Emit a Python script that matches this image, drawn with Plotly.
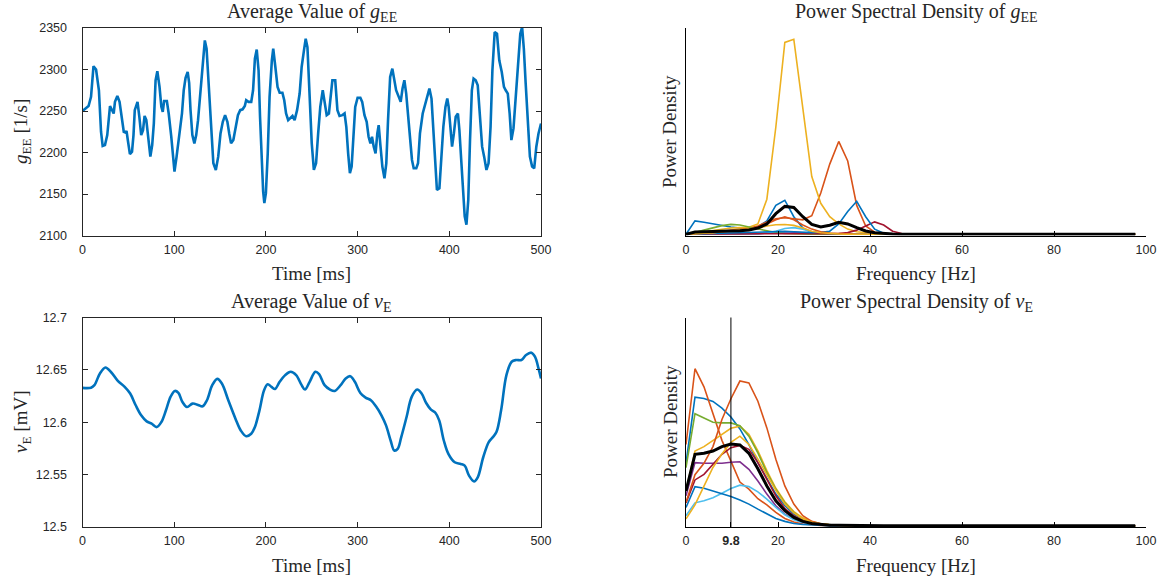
import plotly.graph_objects as go

# ---------------- time-domain data ----------------
# average g_EE over time: (time [ms], g_EE [1/s])
g_ee_samples = [
    (0, 2250), (6.6, 2256), (9.3, 2267), (12, 2304), (14.8, 2300), (17.9, 2275), (20.2, 2225),
    (22, 2208), (24.5, 2209), (27, 2221), (30, 2256), (32, 2251), (34, 2247), (35.4, 2261),
    (38, 2268), (40.4, 2261), (43, 2239), (45, 2225), (47, 2224), (48, 2226), (49.4, 2215),
    (51.7, 2198), (54, 2201), (55.6, 2221), (57, 2251), (60, 2261), (62, 2243), (64, 2221),
    (66, 2227), (67.7, 2244), (69.6, 2239), (72, 2215), (74, 2195), (76, 2209), (77.8, 2235),
    (79.7, 2287), (81.6, 2298), (84, 2279), (86, 2255), (87.5, 2249), (89, 2262), (92, 2262),
    (94, 2247), (96.8, 2219), (98.8, 2195), (100.3, 2177), (102.6, 2195), (105.8, 2221),
    (108.5, 2247), (110.4, 2275), (112.4, 2290), (114.7, 2297), (116.3, 2284), (117.8, 2251),
    (119.8, 2221), (122, 2211), (124, 2221), (126, 2239), (128, 2267), (130.6, 2299),
    (133.4, 2335), (135.3, 2325), (138, 2275), (140.4, 2223), (142.7, 2187), (145.4, 2179),
    (148, 2195), (150.5, 2223), (153, 2237), (155.5, 2245), (158, 2237), (160, 2223),
    (162, 2211), (164.5, 2215), (166.8, 2231), (169.5, 2245), (172, 2251), (174.6, 2252),
    (177, 2256), (178.5, 2263), (181, 2261), (184, 2261), (186, 2275), (188, 2313), (190, 2324),
    (192, 2299), (193.6, 2243), (195.6, 2179), (197, 2153), (198.3, 2139), (200, 2151),
    (202, 2199), (204, 2267), (206.5, 2311), (208, 2325), (210.3, 2303), (212.7, 2279),
    (215, 2272), (218, 2272), (220, 2263), (222, 2247), (224.3, 2239), (226.7, 2241),
    (229, 2244), (231.3, 2239), (234, 2251), (236.8, 2271), (239, 2303), (241.5, 2323),
    (243.4, 2337), (245.3, 2327), (247.7, 2263), (250, 2211), (252.3, 2179), (254.7, 2187),
    (257, 2223), (259.3, 2255), (262, 2275), (264, 2263), (266.3, 2245), (268.7, 2247),
    (271, 2267), (272.5, 2287), (275.6, 2287), (278, 2251), (280.3, 2244), (283.4, 2245),
    (285.8, 2247), (287.7, 2231), (289.7, 2199), (291.6, 2175), (293.5, 2183), (295.5, 2223),
    (297.4, 2255), (300, 2266), (303, 2266), (305, 2261), (307.5, 2245), (309.9, 2237),
    (312, 2219), (314, 2211), (315.7, 2219), (317.6, 2207), (319.6, 2199), (321.5, 2223),
    (323, 2233), (325, 2207), (327, 2183), (329.3, 2169), (331.3, 2187), (333.2, 2239),
    (335.5, 2291), (337.9, 2301), (340, 2289), (342, 2275), (344.9, 2267), (347, 2261),
    (349, 2277), (351, 2287), (353, 2271), (355.4, 2239), (357.3, 2211), (359.3, 2191),
    (361.2, 2181), (364, 2181), (365.9, 2187), (368, 2223), (371, 2247), (373.6, 2257),
    (376, 2267), (378.3, 2277), (380.6, 2265), (382.6, 2231), (384.5, 2195), (386.5, 2155),
    (389.2, 2157), (391, 2195), (393.5, 2231), (395.8, 2255), (397.8, 2265), (399.3, 2255),
    (401, 2231), (403, 2207), (405, 2223), (407, 2243), (409.4, 2247), (411, 2227),
    (413, 2191), (415, 2147), (416.8, 2123), (418.7, 2113), (420.7, 2143), (422.6, 2215),
    (424.6, 2275), (426.5, 2289), (428.8, 2287), (431, 2281), (433.5, 2243), (435.8, 2207),
    (438, 2195), (440.5, 2179), (442.8, 2187), (445, 2231), (447, 2299), (449.5, 2345),
    (452, 2343), (454.5, 2311), (457.2, 2297), (459.6, 2279), (461.5, 2275), (463.8, 2271),
    (465.8, 2247), (467.7, 2215), (470, 2229), (472.4, 2263), (474.7, 2307), (477.4, 2343),
    (479.4, 2351), (481.3, 2325), (483.3, 2283), (485.6, 2231), (487.9, 2195), (490.3, 2183),
    (492.6, 2181), (494.9, 2207), (497.3, 2223), (500, 2235),
]

# average v_E over time: (time [ms], v_E [mV])
v_e_samples = [
    (0, 12.6328), (9.3, 12.633), (13, 12.6354), (19, 12.6466), (25, 12.6523), (31, 12.648),
    (38.5, 12.6395), (46, 12.6338), (52, 12.6274), (58, 12.6162), (64, 12.6066), (70, 12.6008),
    (75.4, 12.5986), (81, 12.5954), (86, 12.6002), (91, 12.6114), (96, 12.6242), (100.7, 12.6299),
    (104.6, 12.628), (109, 12.6194), (114, 12.6146), (120, 12.6178), (126, 12.6165),
    (131, 12.6152), (135.7, 12.621), (141.5, 12.6354), (147, 12.6414), (152, 12.637),
    (159, 12.621), (166.8, 12.6034), (172.6, 12.5922), (178.5, 12.5867), (184, 12.589),
    (188, 12.5954), (193, 12.6114), (198, 12.6306), (202, 12.6363), (206, 12.6338),
    (210, 12.6318), (215, 12.6386), (221, 12.645), (227, 12.6482), (233, 12.645),
    (239, 12.6354), (242.6, 12.6312), (247.7, 12.6386), (254, 12.6482), (258, 12.646),
    (264, 12.6354), (270, 12.6312), (275, 12.6299), (281.5, 12.6354), (287, 12.6418),
    (292, 12.644), (297, 12.6386), (303, 12.628), (308.7, 12.6235), (314.5, 12.621),
    (320, 12.6152), (326, 12.6066), (331, 12.597), (336, 12.5826), (340, 12.573),
    (343.7, 12.5746), (347.6, 12.5858), (353.4, 12.605), (359, 12.6242), (365, 12.6312),
    (369.8, 12.6274), (374.8, 12.6184), (380, 12.612), (385, 12.6088), (389, 12.6018),
    (394, 12.5826), (399, 12.5698), (405.9, 12.5618), (412.5, 12.5602), (416.8, 12.5586),
    (421.5, 12.549), (427, 12.5435), (431, 12.5474), (437, 12.5666), (443, 12.581),
    (447.5, 12.5858), (451.4, 12.5906), (456.5, 12.6114), (462.3, 12.645), (468, 12.6578),
    (473, 12.6594), (478.6, 12.6594), (483.7, 12.6642), (489.5, 12.6664), (493.4, 12.6626),
    (497.3, 12.6514), (500, 12.6418),
]

# ---------------- spectral data ----------------
# frequency bins of the spectra (1000 Hz / 512 samples), up to ~98 Hz
freq_step = 1000 / 512
n_bins = 51
freqs = [k * freq_step for k in range(n_bins)]

# relative power of g_EE, one list per trial (bins beyond the list are ~0)
psd_g_trials = [
    [0, .065, .058, .05, .042, .035, .03, .025, .035, .065, .14, .165, .085, .03, .01, .005, .003, .002, .001],
    [0, .002, .005, .01, .015, .02, .025, .03, .04, .06, .075, .08, .075, .07, .09, .2, .34, .45, .355, .14, .04, .01, .003],
    [0, .004, .01, .018, .025, .03, .032, .034, .05, .17, .52, .93, .945, .62, .28, .15, .085, .05, .025, .012, .006, .003, .001],
    [0, .001, .001, .002, .002, .002, .002, .002, .003, .006, .01, .012, .01, .006, .003, .001],
    [0, .008, .02, .032, .042, .048, .045, .035, .025, .015, .008, .004, .002, .001],
    [0, 0, 0, .001, .001, .001, .001, .001, .002, .006, .015, .028, .032, .025, .012, .005, .002, .001],
    [0, .001, .001, .001, .001, .002, .002, .002, .002, .002, .002, .002, .002, .002, .002, .002, .002, .003, .008, .02, .04, .06, .045, .015, .004, .001],
    [0, .002, .003, .004, .005, .006, .007, .008, .01, .012, .014, .014, .012, .01, .008, .01, .015, .05, .11, .16, .085, .025, .005, .001],
    [0, .002, .004, .008, .012, .016, .02, .025, .035, .05, .07, .085, .07, .045, .025, .012, .006, .003, .001],
    [0, .002, .004, .008, .012, .016, .02, .025, .03, .04, .046, .047, .043, .03, .015, .007, .003, .001],
]
psd_g_mean = [0, .011, .012, .013, .014, .015, .017, .021, .03, .05, .1, .135, .13, .085, .048, .035, .044, .058, .05, .032, .016, .007, .003, .001]

# relative power of v_E, one list per trial
psd_v_trials = [
    [.30, .617, .611, .597, .565, .522, .465, .39, .303, .224, .152, .097, .056, .032, .016, .008, .004, .002, .001],
    [.39, .754, .667, .54, .41, .31, .21, .176, .13, .10, .064, .035, .018, .008, .004, .002, .001],
    [.17, .359, .38, .41, .44, .468, .478, .439, .36, .265, .18, .115, .068, .038, .02, .01, .005, .002, .001],
    [.144, .303, .30, .30, .30, .305, .307, .271, .215, .152, .096, .056, .032, .016, .008, .004, .002, .001],
    [.279, .538, .517, .497, .494, .494, .48, .43, .35, .255, .175, .11, .064, .032, .016, .008, .004, .002, .001],
    [.048, .11, .12, .135, .156, .179, .195, .188, .163, .128, .088, .053, .029, .016, .008, .004, .002, .001],
    [.11, .22, .247, .295, .343, .375, .386, .367, .303, .223, .144, .083, .048, .024, .012, .006, .003, .001],
    [.088, .188, .18, .167, .156, .14, .124, .104, .08, .056, .035, .021, .011, .006, .003, .001],
    [.113, .245, .30, .38, .51, .61, .695, .686, .598, .47, .319, .191, .104, .048, .021, .01, .005, .002, .001],
    [.033, .10, .19, .28, .345, .40, .43, .39, .32, .245, .17, .105, .062, .034, .017, .008, .004, .002],
]
psd_v_mean = [.167, .343, .348, .359, .38, .392, .388, .348, .274, .191, .12, .072, .04, .021, .011, .006, .003, .002, .001]

peak_freq_label = "9.8"

# MATLAB default colour order
trial_colors = ["#0072BD", "#D95319", "#EDB120", "#7E2F8E", "#77AC30",
                "#4DBEEE", "#A2142F", "#0072BD", "#D95319", "#EDB120"]


def on_grid(values):
    """Extend a spectrum list with zero power out to the full frequency grid."""
    return list(values) + [0] * (n_bins - len(values))


W, H = 1166, 582
SERIF = "Liberation Serif"
SANS = "Liberation Sans"
AX = "#262626"

# plot boxes in pixels (left, right, top, bottom)
L_X = (82.5, 541)
R_X = (686, 1146)
T_Y = (28, 235.5)
B_Y = (317.5, 527)


def xd(px):
    return [px[0] / W, px[1] / W]


def yd(py):
    return [1 - py[1] / H, 1 - py[0] / H]


fig = go.Figure()

fig.add_trace(go.Scatter(x=[s[0] for s in g_ee_samples], y=[s[1] for s in g_ee_samples],
                         mode="lines", line=dict(color="#0072BD", width=2.6),
                         xaxis="x", yaxis="y", showlegend=False))

for vals, col in zip(psd_g_trials, trial_colors):
    fig.add_trace(go.Scatter(x=freqs, y=on_grid(vals), mode="lines",
                             line=dict(color=col, width=1.6),
                             xaxis="x2", yaxis="y2", showlegend=False))
fig.add_trace(go.Scatter(x=freqs, y=on_grid(psd_g_mean), mode="lines",
                         line=dict(color="black", width=3),
                         xaxis="x2", yaxis="y2", showlegend=False))

fig.add_trace(go.Scatter(x=[s[0] for s in v_e_samples], y=[s[1] for s in v_e_samples],
                         mode="lines", line=dict(color="#0072BD", width=2.6, shape="spline", smoothing=1),
                         xaxis="x3", yaxis="y3", showlegend=False))

for vals, col in zip(psd_v_trials, trial_colors):
    fig.add_trace(go.Scatter(x=freqs, y=on_grid(vals), mode="lines",
                             line=dict(color=col, width=1.6),
                             xaxis="x4", yaxis="y4", showlegend=False))
fig.add_trace(go.Scatter(x=freqs, y=on_grid(psd_v_mean), mode="lines",
                         line=dict(color="black", width=3),
                         xaxis="x4", yaxis="y4", showlegend=False))

tick_font = dict(family=SANS, size=12.5, color=AX)

common = dict(showgrid=False, zeroline=False, automargin=False, tickfont=tick_font)
box_x = dict(common, showline=True, linecolor=AX, linewidth=1, mirror="ticks", ticks="inside",
             ticklen=5, tickcolor=AX, range=[0, 500], tickvals=[0, 100, 200, 300, 400, 500],
             ticklabelstandoff=2)
box_y = dict(common, showline=True, linecolor=AX, linewidth=1, mirror="ticks", ticks="inside",
             ticklen=5, tickcolor=AX, ticklabelstandoff=12)
psd_x = dict(common, showline=True, linecolor="black", linewidth=1, ticks="inside", ticklen=5,
             tickcolor="black", range=[0, 100], ticklabelstandoff=2)
psd_y = dict(common, showline=True, linecolor="black", linewidth=1.4, ticks="",
             showticklabels=False, range=[-0.006, 1.0])

fig.update_layout(
    template="none",
    width=W, height=H, margin=dict(l=0, r=0, t=0, b=0, pad=0, autoexpand=False),
    paper_bgcolor="white", plot_bgcolor="white", showlegend=False,
    xaxis=dict(box_x, domain=xd(L_X), anchor="y"),
    yaxis=dict(box_y, domain=yd(T_Y), anchor="x", range=[2100, 2350],
               tickvals=[2100, 2150, 2200, 2250, 2300, 2350]),
    xaxis2=dict(psd_x, domain=xd(R_X), anchor="y2", tickvals=[0, 20, 40, 60, 80, 100]),
    yaxis2=dict(psd_y, domain=yd(T_Y), anchor="x2"),
    xaxis3=dict(box_x, domain=xd(L_X), anchor="y3"),
    yaxis3=dict(box_y, domain=yd(B_Y), anchor="x3", range=[12.5, 12.7],
                tickvals=[12.5, 12.55, 12.6, 12.65, 12.7],
                ticktext=["12.5", "12.55", "12.6", "12.65", "12.7"]),
    xaxis4=dict(psd_x, domain=xd(R_X), anchor="y4",
                tickvals=[0, freqs[5], 20, 40, 60, 80, 100],
                ticktext=["0", "<b>" + peak_freq_label + "</b>", "20", "40", "60", "80", "100"]),
    yaxis4=dict(psd_y, domain=yd(B_Y), anchor="x4"),
)

# marker line at the peak frequency of the mean v_E spectrum
fig.add_shape(type="line", xref="x4", yref="y4 domain", x0=freqs[5], x1=freqs[5], y0=0, y1=1,
              line=dict(color="black", width=1))


def label(text, x_px, y_px, angle=0, size=19):
    fig.add_annotation(text=text, x=x_px / W, y=1 - y_px / H, xref="paper", yref="paper",
                       showarrow=False, xanchor="center", yanchor="middle",
                       textangle=angle, font=dict(family=SERIF, size=size, color=AX))


lc = (L_X[0] + L_X[1]) / 2
rc = (R_X[0] + R_X[1]) / 2
label("Average Value of <i>g</i><sub>EE</sub>", lc, 12, size=20)
label("Power Spectral Density of <i>g</i><sub>EE</sub>", rc, 12, size=20)
label("Average Value of <i>v</i><sub>E</sub>", lc, 302, size=20)
label("Power Spectral Density of <i>v</i><sub>E</sub>", rc, 302, size=20)
label("Time [ms]", lc, 273)
label("Frequency [Hz]", rc, 273)
label("Time [ms]", lc, 565)
label("Frequency [Hz]", rc, 565)
label("<i>g</i><sub>EE</sub> [1/s]", 22, 132, -90)
label("<i>v</i><sub>E</sub> [mV]", 22, 422, -90)
label("Power Density", 670, 132, -90)
label("Power Density", 670, 422, -90)

fig.write_html("out.html")
